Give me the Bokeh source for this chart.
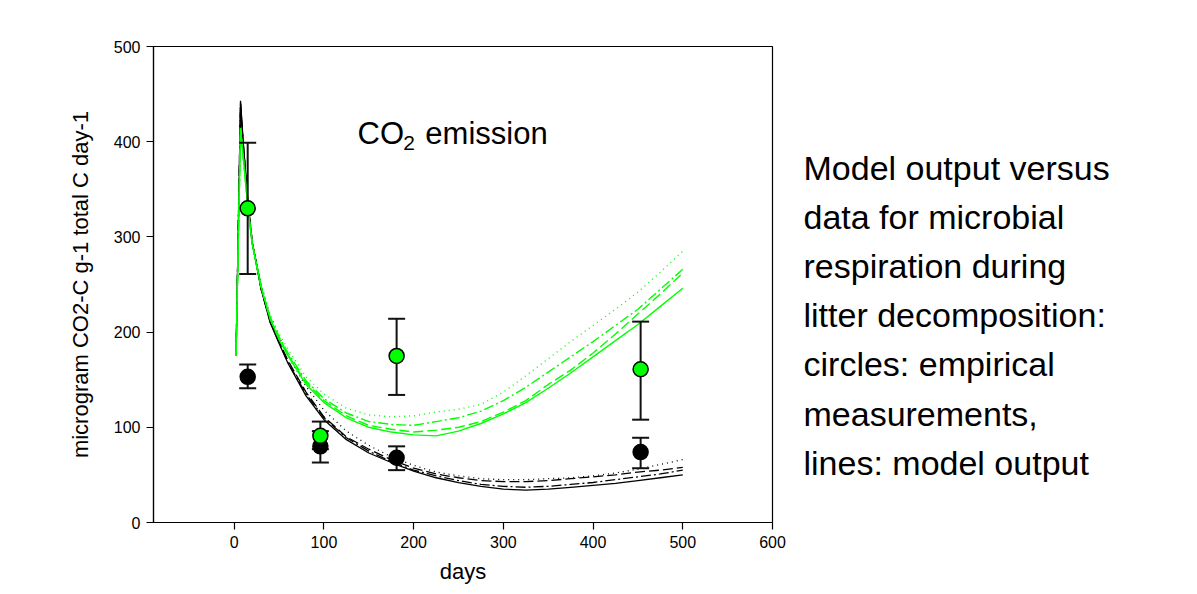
from bokeh.plotting import figure
from bokeh.models import Range1d, FixedTicker, Label
from bokeh.layouts import row
from bokeh.embed import file_html
from bokeh.resources import INLINE

# ---- data ----
days = [2, 7, 10, 15, 20, 30, 40, 50, 60, 80, 100, 125, 150, 175, 200, 225,
        250, 275, 300, 325, 350, 375, 400, 425, 450, 475, 500]

black_solid = [175, 443, 400, 340, 295, 245, 210, 188, 167, 133, 108, 87, 73, 63, 54, 47,
               42, 38, 35, 34, 35, 37, 39, 41, 44, 47, 50]
black_dashdot = [175, 440, 398, 338, 294, 245, 211, 189, 168, 135, 110, 89, 75, 64, 55, 49,
                 44, 40, 38, 37, 38, 40, 42, 45, 48, 51, 55]
black_dashed = [175, 440, 398, 338, 294, 246, 212, 190, 170, 137, 111, 90, 77, 66, 57, 51,
                47, 44, 43, 43, 44, 46, 48, 50, 53, 55, 58]
black_dotted = [175, 438, 397, 340, 297, 250, 216, 195, 175, 143, 118, 96, 81, 69, 60, 53,
                49, 46, 45, 45, 46, 47, 49, 52, 56, 61, 66]

green_solid = [175, 414, 385, 333, 293, 247, 214, 192, 175, 145, 126, 110, 100, 95, 92, 91,
               96, 104, 114, 126, 141, 157, 174, 191, 208, 227, 246]
green_dashed = [175, 414, 385, 333, 293, 247, 214, 193, 176, 147, 128, 112, 102, 98, 95, 97,
                100, 106, 116, 128, 145, 160, 178, 198, 219, 240, 262]
green_dashdot = [175, 413, 384, 333, 294, 248, 216, 195, 178, 149, 130, 115, 106, 103, 102, 106,
                 110, 117, 128, 142, 158, 174, 190, 207, 224, 245, 266]
green_dotted = [175, 412, 384, 334, 295, 250, 219, 198, 182, 153, 135, 120, 113, 111, 112, 116,
                119, 124, 137, 154, 172, 190, 207, 224, 242, 263, 285]

obs_days = [15, 96, 181, 453]
green_obs = [330, 91, 175, 161]
green_lo = [261, 77, 134, 108]
green_hi = [399, 106, 214, 211]
black_obs = [153, 80, 68, 74]
black_lo = [141, 63, 55, 57]
black_hi = [166, 96, 80, 89]

x_ticks = [0, 100, 200, 300, 400, 500, 600]
y_ticks = [0, 100, 200, 300, 400, 500]

note_lines = ["Model output versus", "data for microbial", "respiration during",
              "litter decomposition:", "circles: empirical", "measurements,",
              "lines: model output"]

FONT = "Liberation Sans"
GREEN = "#00ff00"
H = 586

p = figure(width=790, height=H, output_backend="svg", toolbar_location=None,
           x_range=Range1d(-90, 600), y_range=Range1d(0, 500),
           min_border_left=153, min_border_right=18, min_border_top=46,
           min_border_bottom=64)
p.xgrid.visible = False
p.ygrid.visible = False
p.outline_line_color = "black"
p.outline_line_width = 1.2
p.background_fill_color = "white"
p.border_fill_color = "white"

for ax, ticks in ((p.xaxis[0], x_ticks), (p.yaxis[0], y_ticks)):
    ax.ticker = FixedTicker(ticks=ticks)
    ax.minor_tick_line_color = None
    ax.major_tick_in = 0
    ax.major_tick_out = 7
    ax.major_tick_line_color = "black"
    ax.major_tick_line_width = 1.2
    ax.axis_line_color = "black"
    ax.axis_line_width = 1.2
    ax.major_label_text_font = FONT
    ax.major_label_text_font_size = "16px"
    ax.major_label_text_color = "black"
    ax.major_label_standoff = 6
    ax.axis_label_text_font = FONT
    ax.axis_label_text_font_style = "normal"
    ax.axis_label_text_font_size = "22px"
    ax.axis_label_text_color = "black"

p.yaxis.axis_label = "microgram CO2-C g-1 total C day-1"
p.yaxis.axis_label_standoff = 18
p.xaxis.axis_label = "days"
p.xaxis.axis_label_standoff = 8

black_styles = [None, "10 3 2 3", "10 4", "1 4"]
for series, dash in zip([black_solid, black_dashdot, black_dashed, black_dotted], black_styles):
    kw = {} if dash is None else {"line_dash": dash}
    p.line(days, series, line_color="black", line_width=1.3, **kw)
green_styles = [None, "10 4", "10 3 2 3", "1 4"]
for series, dash in zip([green_solid, green_dashed, green_dashdot, green_dotted], green_styles):
    kw = {} if dash is None else {"line_dash": dash}
    p.line(days, series, line_color=GREEN, line_width=1.4, **kw)

# error bars
for lo, hi in ((green_lo, green_hi), (black_lo, black_hi)):
    p.segment(obs_days, lo, obs_days, hi, line_color="#111111", line_width=2)
    p.scatter(obs_days, lo, marker="dash", size=17, line_color="#111111", line_width=2)
    p.scatter(obs_days, hi, marker="dash", size=17, line_color="#111111", line_width=2)

p.scatter(obs_days, black_obs, marker="circle", size=15, fill_color="black",
          line_color="black", line_width=1.5)
p.scatter(obs_days, green_obs, marker="circle", size=15, fill_color=GREEN,
          line_color="black", line_width=1.5)

# CO2 emission title inside the plot
p.add_layout(Label(x=137.5, y=409, text="CO", text_font=FONT, text_font_size="31px",
                   text_baseline="middle", text_color="black"))
p.add_layout(Label(x=188.5, y=399, text="2", text_font=FONT, text_font_size="21px",
                   text_baseline="middle", text_color="black"))
p.add_layout(Label(x=213, y=409, text="emission", text_font=FONT, text_font_size="31px",
                   text_baseline="middle", text_color="black"))

# side note in a second, axis-less panel; its frame lines up with the plot frame
q = figure(width=400, height=H, output_backend="svg", toolbar_location=None,
           x_range=Range1d(0, 400), y_range=Range1d(522, 46),
           x_axis_type=None, y_axis_type=None,
           min_border_left=0, min_border_right=0, min_border_top=46, min_border_bottom=64)
q.xgrid.visible = False
q.ygrid.visible = False
q.outline_line_color = None
q.background_fill_color = "white"
q.border_fill_color = "white"

for i, line in enumerate(note_lines):
    q.add_layout(Label(x=13, y=167 + i * 49.2, text=line, text_font=FONT,
                       text_font_size="34px", text_baseline="middle",
                       text_color="black"))

layout = row(p, q)
open("out.html", "w").write(file_html(layout, INLINE))
